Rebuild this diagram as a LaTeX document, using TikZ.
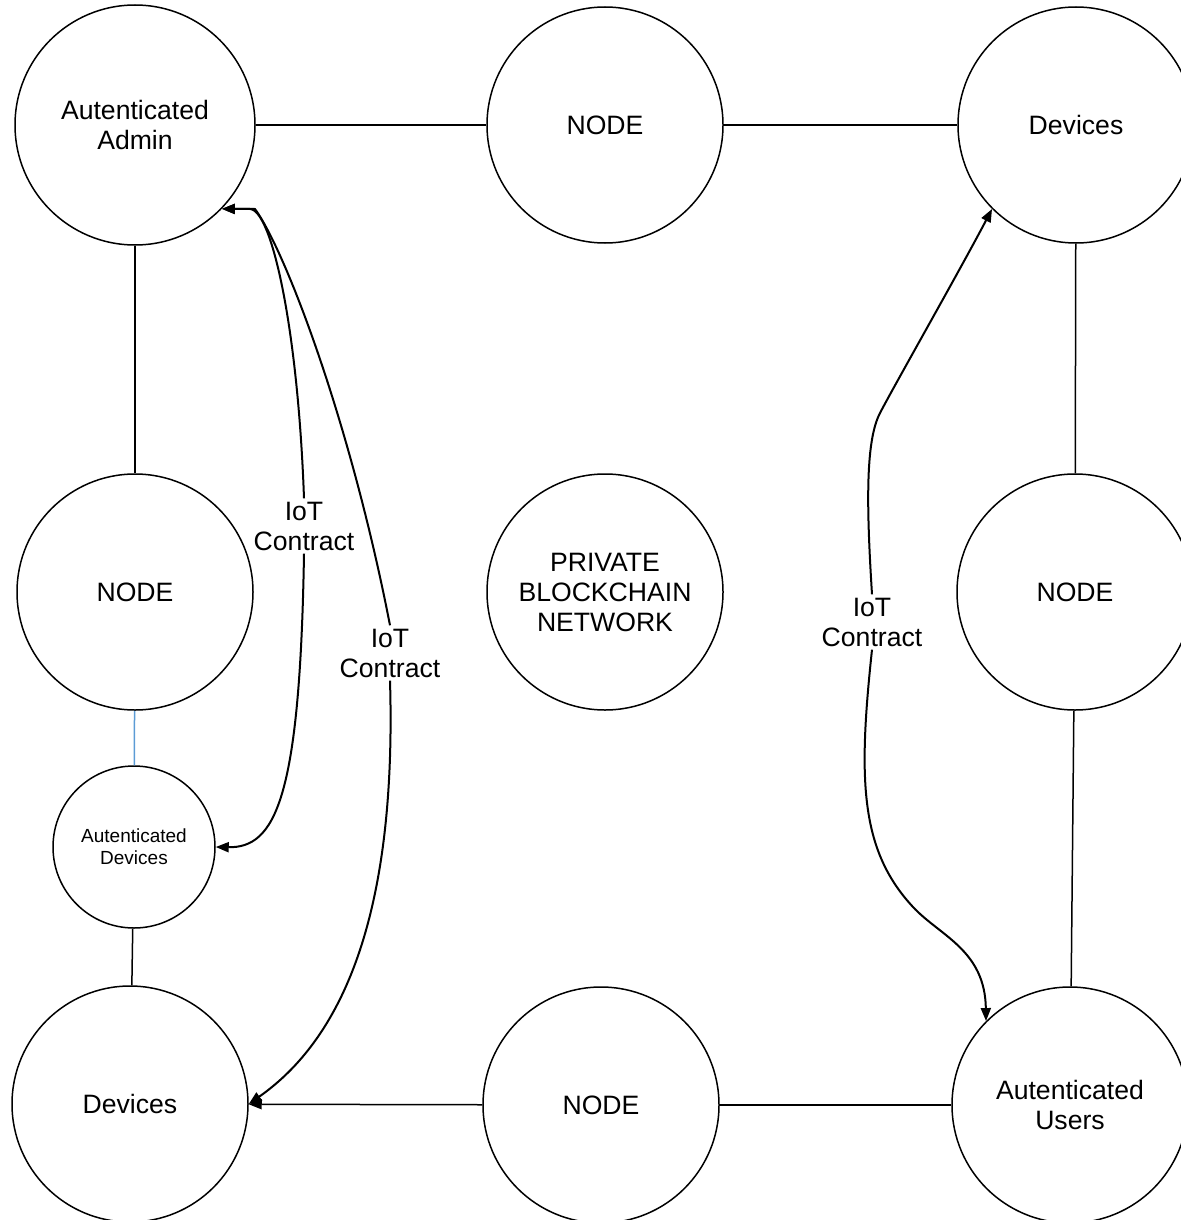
\documentclass[tikz,border=0pt]{standalone}
\usepackage{fontspec}
\setmainfont{Liberation Sans}
\usepackage{xcolor}
\usepackage{tikz}
\usetikzlibrary{arrows.meta,positioning}
\definecolor{linkblue}{RGB}{91,155,213}

\begin{document}
\begin{tikzpicture}[
    x=0.5pt, y=-0.5pt,
    peer/.style={draw=black, line width=0.75pt, circle, minimum size=118pt, inner sep=0pt,
                align=center, font=\fontsize{13.3}{15}\selectfont},
    smallpeer/.style={peer, minimum size=81pt, font=\fontsize{9.5}{11}\selectfont},
    lbl/.style={align=center, inner sep=1.5pt, font=\fontsize{13.3}{15}\selectfont},
    link/.style={line width=0.75pt, black},
    arr/.style={-{Triangle[length=6.5pt, width=5pt]}, line width=1pt, black}
]
\useasboundingbox (0,0) rectangle (1180,1220);

\node[peer, minimum size=120pt] (admin) at (135,125) {Autenticated\\Admin};
\node[peer] (nodetop) at (605,125) {NODE};
\node[peer] (devtop) at (1076,125) {Devices};
\node[peer] (nodeleft) at (135,592) {NODE};
\node[peer] (chain) at (605,592) {PRIVATE\\BLOCKCHAIN\\NETWORK};
\node[peer] (noderight) at (1075,592) {NODE};
\node[smallpeer] (authdev) at (134,847) {Autenticated\\Devices};
\node[peer] (devbot) at (130,1104) {Devices};
\node[peer] (nodebot) at (601,1105) {NODE};
\node[peer] (users) at (1070,1105) {Autenticated\\Users};

\node[lbl] (iota) at (304,526) {IoT\\Contract};
\node[lbl] (iotb) at (390,653) {IoT\\Contract};
\node[lbl] (iotc) at (872,622) {IoT\\Contract};

\draw[link] (admin) -- (nodetop);
\draw[link] (nodetop) -- (devtop);
\draw[link] (admin) -- (nodeleft);
\draw[link] (devtop) -- (noderight);
\draw[link, linkblue] (nodeleft) -- (authdev);
\draw[link] (authdev) -- (devbot);
\draw[link] (noderight) -- (users);
\draw[link] (nodebot) -- (users);
\draw[arr, line width=0.75pt] (nodebot) -- (devbot);

\draw[arr] (iota.north) .. controls (298,330) and (272,210) .. (250,209) -- (admin.-44);
\draw[arr] (iota.south) .. controls (300,800) and (275,848) .. (authdev.east);
\draw[arr] (iotb.north) .. controls (350,420) and (285,250) .. (255,209) -- (admin.-44);
\draw[arr] (iotb.south) .. controls (397,920) and (340,1040) .. (devbot.east);
\draw[arr] (iotc.north) .. controls (866,500) and (866,440) .. (880,413) .. controls (894,386) and (960,270) .. (devtop.225);
\draw[arr] (iotc.south) .. controls (858,780) and (860,850) .. (913,907) .. controls (940,936) and (985,950) .. (users.135);
\end{tikzpicture}
\end{document}
